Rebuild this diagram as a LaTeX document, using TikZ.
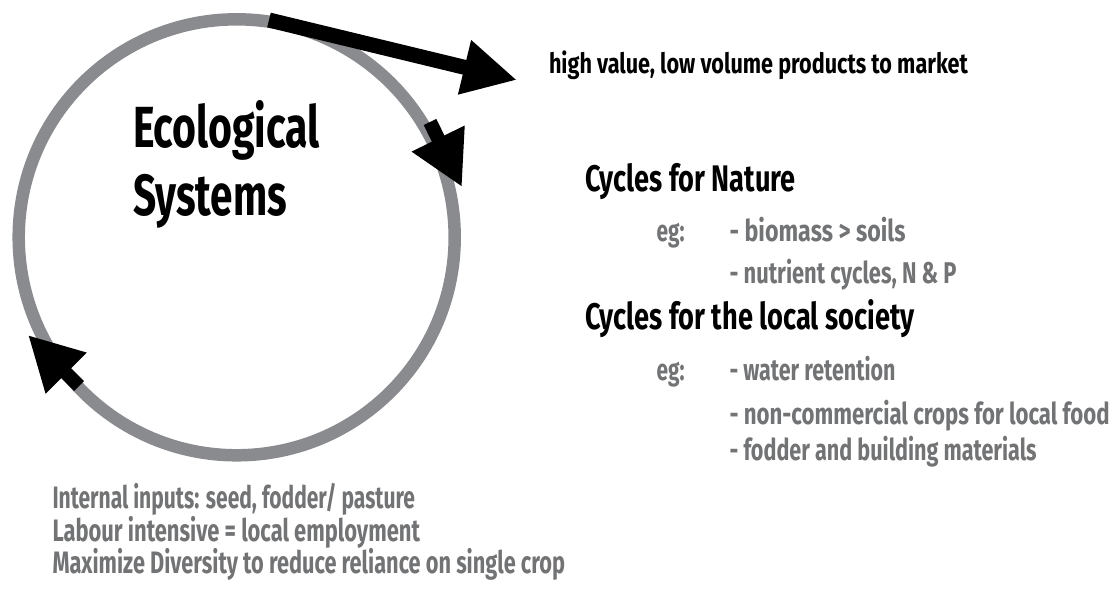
\documentclass[tikz,border=0pt]{standalone}
\usepackage{fontspec}
\usepackage{graphicx}
\usetikzlibrary{arrows.meta}
\setmainfont{Fira Sans}
\newfontfamily\dinfont{Fira Sans}[UprightFont=* Bold]
\definecolor{ringgray}{HTML}{898B8E}
\definecolor{textgray}{HTML}{727375}
\newcommand\fitw[2]{\resizebox{#1}{\height}{#2}}
\begin{document}
\begin{tikzpicture}[x=1pt,y=-1pt,
  txt/.style={inner sep=0pt,outer sep=0pt,anchor=base west,font=\dinfont},
  blk/.style={txt,text=black},
  gry/.style={txt,text=textgray},
  ring/.style={draw=ringgray,line width=12.5pt,circle,minimum size=436pt,inner sep=0pt},
  flowarrow/.style={draw=black,line width=#1},
]
\useasboundingbox[fill=white] (0,0) rectangle (1114,589);

\node[ring] (cyc) at (236.7,237.3) {};

% arrows
\coordinate (a1s) at (269,20);
\coordinate (a1e) at (517,80);
\coordinate (a2s) at (430,122);
\coordinate (a2e) at (462,187);
\coordinate (a3s) at (79,386);
\coordinate (a3e) at (28,335);
\draw[flowarrow=15pt,-{Triangle[length=54pt,width=52pt]}] (a1s) -- (a1e);
\draw[flowarrow=14pt,-{Triangle[length=54pt,width=55pt]}] (a2s) -- (a2e);
\draw[flowarrow=14pt,-{Triangle[length=54pt,width=54pt]}] (a3s) -- (a3e);

% title
\node[blk,font=\dinfont\fontsize{58}{58}\selectfont] (t1) at (133,147) {\fitw{187pt}{Ecological}};
\node[blk,font=\dinfont\fontsize{58}{58}\selectfont] (t2) at (133,215) {\fitw{154pt}{Systems}};

% market
\node[blk,font=\dinfont\fontsize{28}{28}\selectfont] (mk) at (549,73) {\fitw{419pt}{high value, low volume products to market}};

% cycles
\node[blk,font=\dinfont\fontsize{37}{37}\selectfont] (cn) at (585.6,191) {\fitw{210pt}{Cycles for Nature}};
\node[gry,font=\dinfont\fontsize{30}{30}\selectfont] (eg1) at (656.7,241) {\fitw{28pt}{eg:}};
\node[gry,font=\dinfont\fontsize{30}{30}\selectfont] (n1) at (729.6,241) {\fitw{176pt}{- biomass > soils}};
\node[gry,font=\dinfont\fontsize{30}{30}\selectfont] (n2) at (729.6,283.6) {\fitw{227pt}{- nutrient cycles, N \& P}};

\node[blk,font=\dinfont\fontsize{37}{37}\selectfont] (cs) at (585.6,329.7) {\fitw{329pt}{Cycles for the local society}};
\node[gry,font=\dinfont\fontsize{30}{30}\selectfont] (eg2) at (656.7,380.7) {\fitw{28pt}{eg:}};
\node[gry,font=\dinfont\fontsize{30}{30}\selectfont] (s1) at (729.6,380.7) {\fitw{166pt}{- water retention}};
\node[gry,font=\dinfont\fontsize{30}{30}\selectfont] (s2) at (729.6,424) {\fitw{380pt}{- non-commercial crops for local food}};
\node[gry,font=\dinfont\fontsize{30}{30}\selectfont] (s3) at (729.6,460.5) {\fitw{307pt}{- fodder and building materials}};

% bottom
\node[gry,font=\dinfont\fontsize{31}{31}\selectfont] (b1) at (52.5,508.6) {\fitw{362.5pt}{Internal inputs: seed, fodder/ pasture}};
\node[gry,font=\dinfont\fontsize{31}{31}\selectfont] (b2) at (52.5,541) {\fitw{367.5pt}{Labour intensive = local employment}};
\node[gry,font=\dinfont\fontsize{31}{31}\selectfont] (b3) at (52.5,573.6) {\fitw{512.5pt}{Maximize Diversity to reduce reliance on single crop}};
\end{tikzpicture}
\end{document}
